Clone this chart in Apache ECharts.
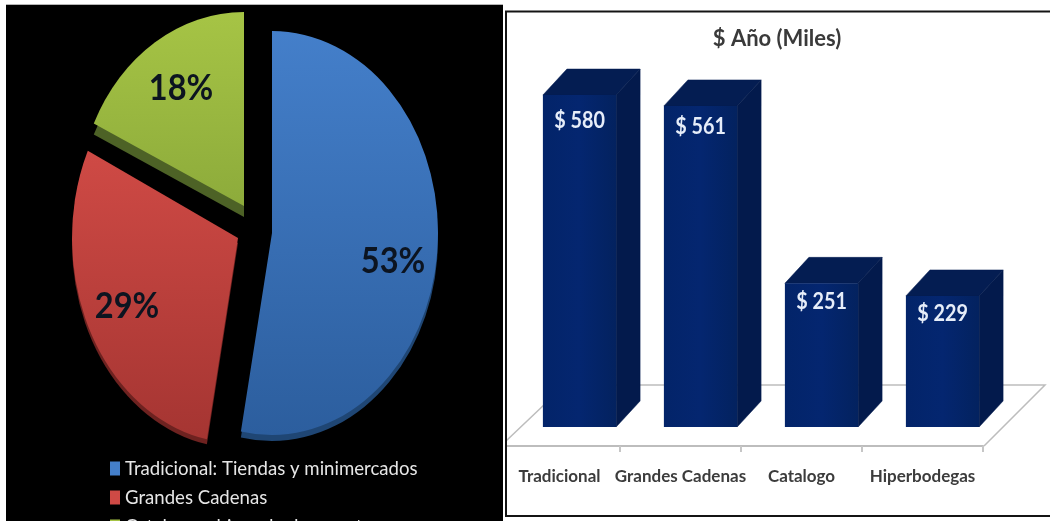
<!DOCTYPE html>
<html>
<head>
<meta charset="utf-8">
<style>html,body{margin:0;padding:0;background:#fff}#chart{width:1050px;height:521px}</style>
<script src="https://cdn.jsdelivr.net/npm/echarts@6/dist/echarts.min.js"></script>
</head>
<body>
<div id="chart"></div>
<script>
// Channel share (pie)
const channelNames = ['Tradicional: Tiendas y minimercados', 'Grandes Cadenas', 'Catalogo y hiper de descuento'];
const channelShares = [53, 29, 18];

// Yearly amount in thousands (bars)
const barCategories = ['Tradicional', 'Grandes Cadenas', 'Catalogo', 'Hiperbodegas'];
const barValues = [580, 561, 251, 229];

const FONT = 'Lato, "Open Sans", sans-serif';
const RX = 166;

// Each slice is pulled out from the pie by its own amount, and has its own extrusion depth.
const sliceLayout = [
  { cx: 272, cy: 233, ry: 202, depth: 6, label: [393, 261],
    top: '#447fca', bottom: '#2c5e9e', side: '#1f4674' },
  { cx: 238, cy: 238, ry: 205, depth: 5, label: [127, 306],
    top: '#cf4a45', bottom: '#a53532', side: '#6e2220' },
  { cx: 244, cy: 206, ry: 194, depth: 11, label: [181, 88],
    top: '#a6c445', bottom: '#8dab3b', side: '#4d6226' }
];

const shareTotal = channelShares.reduce((a, b) => a + b, 0);

function sliceSeries(index) {
  const before = channelShares.slice(0, index).reduce((a, b) => a + b, 0);
  const s = sliceLayout[index];
  return {
    type: 'custom',
    name: channelNames[index],
    coordinateSystem: 'none',
    z: 20,
    silent: true,
    itemStyle: { color: s.top },
    data: [[channelShares[index]]],
    renderItem(params, api) {
      const start = before / shareTotal * Math.PI * 2 - Math.PI / 2;
      const end = (before + api.value(0)) / shareTotal * Math.PI * 2 - Math.PI / 2;
      const shape = { cx: 0, cy: 0, r: s.ry, r0: 0, startAngle: start, endAngle: end, clockwise: true };
      const scaleX = RX / s.ry;
      return {
        type: 'group',
        children: [
          { type: 'sector', x: s.cx, y: s.cy + s.depth, scaleX, shape, style: { fill: s.side } },
          { type: 'sector', x: s.cx, y: s.cy, scaleX, shape, style: {
              fill: { type: 'linear', x: 0, y: 0, x2: 0, y2: 1, global: false,
                colorStops: [{ offset: 0, color: s.top }, { offset: 1, color: s.bottom }] } } },
          { type: 'text', x: s.label[0], y: s.label[1], scaleX: 0.88, style: {
              text: api.value(0) + '%', font: 'bold 37px ' + FONT, fill: '#0c1420',
              align: 'center', verticalAlign: 'middle' } }
        ]
      };
    }
  };
}

// 3D columns: front face sits up and to the right of the floor's front edge.
const FRONT_SHIFT = [20, -19];
const DEPTH = [24, -26];
const BAR_RATIO = 0.605;
const valueLabelDrop = [26, 21, 18, 18];

const barSeries = {
  type: 'custom',
  name: '$ Año (Miles)',
  coordinateSystem: 'cartesian2d',
  z: 5,
  silent: true,
  data: barValues.map((v, i) => [i, v]),
  renderItem(params, api) {
    const i = api.value(0);
    const base = api.coord([i, 0]);
    const head = api.coord([i, api.value(1)]);
    const w = api.size([1, 0])[0] * BAR_RATIO;
    const x0 = base[0] + FRONT_SHIFT[0] - w / 2;
    const x1 = x0 + w;
    const yb = base[1] + FRONT_SHIFT[1];
    const yt = head[1] + FRONT_SHIFT[1];
    const [dx, dy] = DEPTH;
    return {
      type: 'group',
      children: [
        { type: 'polygon', shape: { points: [[x0, yt], [x0 + dx, yt + dy], [x1 + dx, yt + dy], [x1, yt]] },
          style: { fill: '#041d52', stroke: '#041d52', lineWidth: 0.5 } },
        { type: 'polygon', shape: { points: [[x1, yt], [x1 + dx, yt + dy], [x1 + dx, yb + dy], [x1, yb]] },
          style: { fill: '#031a4c', stroke: '#031a4c', lineWidth: 0.5 } },
        { type: 'rect', shape: { x: x0, y: yt, width: w, height: yb - yt },
          style: { fill: { type: 'linear', x: 0, y: 0, x2: 1, y2: 0, colorStops: [
            { offset: 0, color: '#032469' }, { offset: 0.5, color: '#042670' }, { offset: 1, color: '#03225f' }] } } },
        { type: 'text', x: x0 + w / 2, y: yt + valueLabelDrop[i], scaleX: 0.86, style: {
            text: '$ ' + api.value(1), font: 'bold 23px ' + FONT, fill: '#e6edf9',
            align: 'center', verticalAlign: 'middle' } }
      ]
    };
  }
};

const option = {
  backgroundColor: '#ffffff',
  animation: false,
  title: {
    text: '$ Año (Miles)', left: 772, top: 23, textAlign: 'center',
    textStyle: { fontFamily: FONT, fontWeight: 'bold', fontSize: 22, color: '#3a3a3a' }
  },
  legend: {
    data: channelNames, orient: 'vertical', left: 105, top: 454, height: 120, z: 30,
    itemWidth: 10, itemHeight: 14, itemGap: 10, icon: 'rect', selectedMode: false,
    textStyle: { color: '#e6e6e6', fontFamily: FONT, fontSize: 18.6 }
  },
  grid: { left: 499, top: 102.6, width: 484, height: 343.4, containLabel: false },
  xAxis: {
    type: 'category', data: barCategories,
    axisLine: { lineStyle: { color: '#bdbdbd', width: 2 } },
    axisTick: { show: true, length: 6, lineStyle: { color: '#c6c6c6', width: 2 } },
    axisLabel: { margin: 22, color: '#3c3c3c', fontFamily: FONT, fontWeight: 'bold', fontSize: 17, interval: 0 }
  },
  yAxis: { type: 'value', min: 0, max: 600, show: false },
  graphic: {
    elements: [
      { type: 'polyline', z: 1, shape: { points: [[506, 441], [565, 385], [1045, 385], [984, 446]] },
        style: { stroke: '#bdbdbd', lineWidth: 1.5, fill: null } },
      { type: 'rect', z: 10, shape: { x: 6, y: 5, width: 497, height: 516 }, style: { fill: '#000' } },
      { type: 'rect', z: 10, shape: { x: 503, y: 0, width: 3, height: 521 }, style: { fill: '#fff' } },
      { type: 'line', z: 10, shape: { x1: 6, y1: 4.5, x2: 503, y2: 4.5 }, style: { stroke: '#b5b5b5', lineWidth: 1 } },
      { type: 'polyline', z: 10, shape: { points: [[1052, 11.5], [506, 11.5], [506, 516], [1052, 516]] },
        style: { stroke: '#141414', lineWidth: 2, fill: null } }
    ]
  },
  series: [sliceSeries(0), sliceSeries(1), sliceSeries(2), barSeries]
};

echarts.init(document.getElementById('chart'), null, { renderer: 'canvas' }).setOption(option);
</script>
</body>
</html>
